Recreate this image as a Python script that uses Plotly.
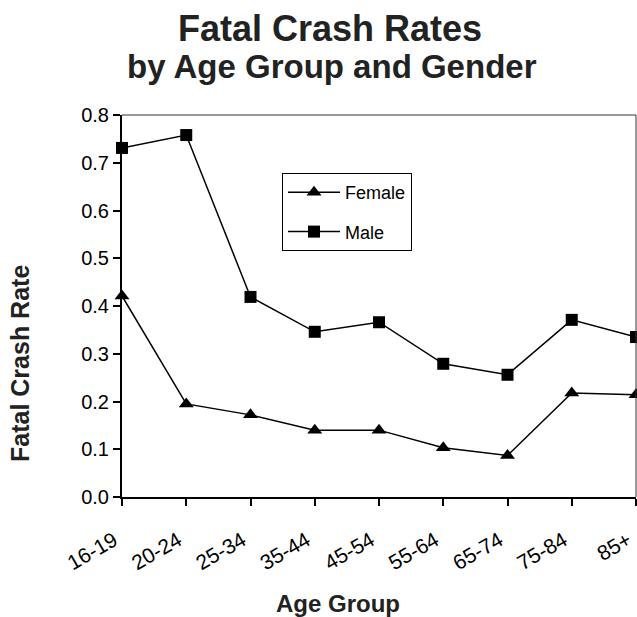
import plotly.graph_objects as go

age_groups = ["16-19", "20-24", "25-34", "35-44", "45-54", "55-64", "65-74", "75-84", "85+"]
female = [0.421, 0.195, 0.172, 0.140, 0.140, 0.103, 0.087, 0.218, 0.214]
male = [0.731, 0.758, 0.419, 0.346, 0.366, 0.279, 0.256, 0.371, 0.335]
y_ticks = [0.0, 0.1, 0.2, 0.3, 0.4, 0.5, 0.6, 0.7, 0.8]

FONT = "Liberation Sans, Arial, sans-serif"
TXT = "#222222"

# plot area on page: x 122..636, y 115..497 (body margin removed below)
L, R, T, B = 122, 1, 115, 120
W, H = 637, 617
PW = W - L - R
PH = H - T - B


def px(xp):
    return (xp - L) / PW


def py(yp):
    return (H - B - yp) / PH


fig = go.Figure()
fig.add_trace(go.Scatter(
    x=age_groups, y=female, name="Female", mode="lines+markers",
    line=dict(color="black", width=1.5),
    marker=dict(symbol="triangle-up", size=13, color="black"),
    cliponaxis=False, legendgroup="f"))
fig.add_trace(go.Scatter(
    x=age_groups, y=male, name="Male", mode="lines+markers",
    line=dict(color="black", width=1.5),
    marker=dict(symbol="square", size=12, color="black"),
    cliponaxis=False, legendgroup="m"))

fig.update_layout(
    width=W, height=H,
    margin=dict(l=L, r=R, t=T, b=B),
    paper_bgcolor="white", plot_bgcolor="white",
    font=dict(family=FONT, color="black", size=19),
    showlegend=True,
    legend=dict(x=px(282), y=py(173), xanchor="left", yanchor="top",
                bordercolor="black", borderwidth=1, bgcolor="white",
                font=dict(size=18, family=FONT), itemwidth=52,
                tracegroupgap=13, traceorder="grouped"),
    xaxis=dict(type="category", categoryorder="array", categoryarray=age_groups,
               range=[0, len(age_groups) - 1],
               showline=True, linecolor="black", linewidth=2,
               ticks="outside", ticklen=7, tickwidth=1.5, tickcolor="black",
               tickangle=-30, showgrid=False, zeroline=False,
               ticklabelstandoff=14, ticklabelshift=-8,
               tickfont=dict(size=21, family=FONT)),
    yaxis=dict(range=[0, 0.8], tickvals=y_ticks, tickformat=".1f",
               showline=True, linecolor="black", linewidth=2,
               ticks="outside", ticklen=7, tickwidth=1.5, tickcolor="black",
               showgrid=False, zeroline=False,
               tickfont=dict(size=20, family=FONT)),
)

# titles as annotations for precise placement
fig.add_annotation(text="<b>Fatal Crash Rates</b>", xref="paper", yref="paper",
                   x=px(330), y=py(28), xanchor="center", yanchor="middle",
                   showarrow=False, font=dict(size=36, family=FONT, color=TXT))
fig.add_annotation(text="<b>by Age Group and Gender</b>", xref="paper", yref="paper",
                   x=px(332), y=py(66), xanchor="center", yanchor="middle",
                   showarrow=False, font=dict(size=33, family=FONT, color=TXT))
fig.add_annotation(text="<b>Age Group</b>", xref="paper", yref="paper",
                   x=px(338), y=py(603), xanchor="center", yanchor="middle",
                   showarrow=False, font=dict(size=24, family=FONT, color=TXT))
fig.add_annotation(text="<b>Fatal Crash Rate</b>", xref="paper", yref="paper",
                   x=px(20), y=py(364), xanchor="center", yanchor="middle",
                   textangle=-90,
                   showarrow=False, font=dict(size=25, family=FONT, color=TXT))

fig.add_shape(type="line", xref="paper", yref="paper", x0=0, x1=1, y0=1, y1=1,
              line=dict(color="#333333", width=1))
fig.add_shape(type="line", xref="paper", yref="paper", x0=1, x1=1, y0=0, y1=1,
              line=dict(color="#333333", width=1))

fig.write_html("out.html",
               config={"displayModeBar": False},
               post_script="document.body.style.margin='0px';document.body.style.overflow='hidden';")
